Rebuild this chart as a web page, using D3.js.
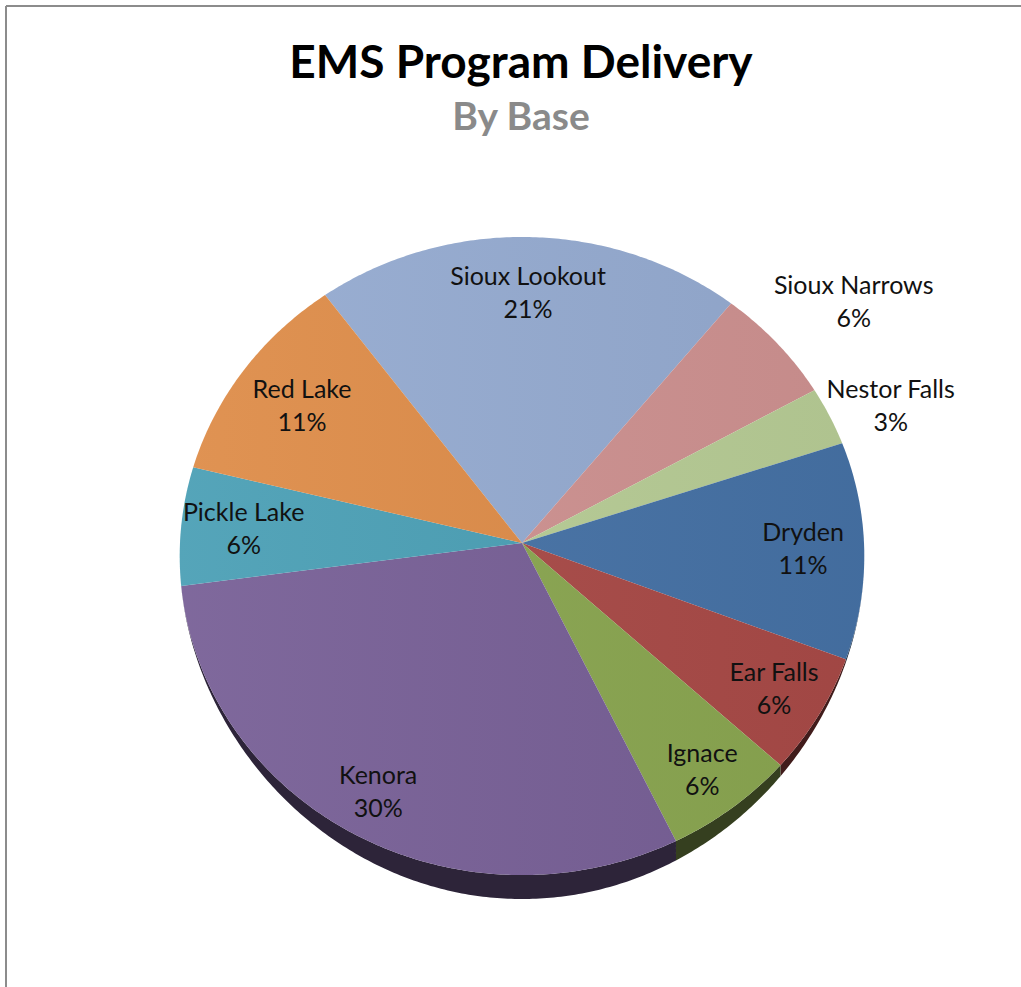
<!DOCTYPE html>
<html>
<head>
<meta charset="utf-8">
<script src="https://cdn.jsdelivr.net/npm/d3@7"></script>
<style>
    body { margin: 0; background: white; }
    svg { display: block; }
</style>
</head>
<body>
<svg id="chart" width="1021" height="987"></svg>
<script>
// data, clockwise from the top
const bases = ["Sioux Lookout", "Sioux Narrows", "Nestor Falls", "Dryden", "Ear Falls", "Ignace", "Kenora", "Pickle Lake", "Red Lake"];
const shares = [21, 6, 3, 11, 6, 6, 30, 6, 11];
const colors = ["#95abd1", "#cf9291", "#b8cd96", "#4672a6", "#a94a47", "#8aa650", "#775f96", "#4a9fb5", "#de8c48"];
const outsideLabels = ["Sioux Narrows", "Nestor Falls"];

window.addEventListener("load", main);

function main()
{
    const svg = d3.select("svg#chart");
    const width = +svg.attr("width");
    const font = "Lato, 'Open Sans', sans-serif";

    // frame (only top and left edges show in the shot)
    svg.append("line").attr("x1", 6).attr("y1", 6).attr("x2", width).attr("y2", 6)
        .attr("stroke", "#8c8c8c").attr("stroke-width", 2);
    svg.append("line").attr("x1", 6).attr("y1", 6).attr("x2", 6).attr("y2", 987)
        .attr("stroke", "#8c8c8c").attr("stroke-width", 2);

    // titles
    svg.append("text").text("EMS Program Delivery")
        .attr("x", 521).attr("y", 78)
        .attr("text-anchor", "middle")
        .attr("font-family", font)
        .attr("font-weight", "bold")
        .attr("font-size", 46)
        .attr("fill", "black");
    svg.append("text").text("By Base")
        .attr("x", 521).attr("y", 130)
        .attr("text-anchor", "middle")
        .attr("font-family", font)
        .attr("font-weight", "bold")
        .attr("font-size", 39)
        .attr("fill", "#8a8a8a");

    // 3d pie: disc seen with a little perspective, far side smaller
    const cx = 522, cy = 543, rx = 342, ry = 318.5, persp = 0.0408, depth = 24;
    const start = -36.5 * Math.PI / 180;

    function top(a, k = 1)
    {
        const s = 1 + persp * k * Math.cos(a);
        return [cx + k * rx * Math.sin(a) / s, cy - k * ry * Math.cos(a) / s];
    }
    function bottom(a)
    {
        const p = top(a);
        const c = Math.cos(a);
        return [p[0], p[1] + (c < 0 ? depth * c * c : 0)];
    }
    function arcPoints(a0, a1, f)
    {
        const n = Math.max(2, Math.ceil(Math.abs(a1 - a0) / 0.01));
        return d3.range(n + 1).map(i => f(a0 + (a1 - a0) * i / n));
    }

    const pie = d3.pie().sort(null).value(d => d)
        .startAngle(start).endAngle(start + 2 * Math.PI);
    const arcs = pie(shares).map((d, i) => ({...d, name: bases[i], color: colors[i]}));
    const total = d3.sum(shares);
    const line = d3.line();

    // side walls (front half only)
    const sides = svg.append("g");
    arcs.forEach(d => {
        const s0 = Math.max(d.startAngle, Math.PI / 2);
        const s1 = Math.min(d.endAngle, 3 * Math.PI / 2);
        if (s1 <= s0) return;
        const pts = arcPoints(s0, s1, top).concat(arcPoints(s1, s0, bottom));
        sides.append("path")
            .attr("d", line(pts) + "Z")
            .attr("fill", d3.color(d.color).darker(2.7));
    });

    // gradient on the top face
    const defs = svg.append("defs");
    const grad = defs.append("linearGradient").attr("id", "shade")
        .attr("gradientUnits", "userSpaceOnUse")
        .attr("x1", cx - rx).attr("y1", 0).attr("x2", cx + rx).attr("y2", 0);
    grad.append("stop").attr("offset", 0).attr("stop-color", "white").attr("stop-opacity", 0.06);
    grad.append("stop").attr("offset", 1).attr("stop-color", "black").attr("stop-opacity", 0.05);

    const faces = svg.append("g");
    arcs.forEach(d => {
        const pts = [[cx, cy]].concat(arcPoints(d.startAngle, d.endAngle, top));
        faces.append("path").attr("d", line(pts) + "Z").attr("fill", d.color);
        faces.append("path").attr("d", line(pts) + "Z").attr("fill", "url(#shade)");
    });

    // data labels
    const labels = svg.append("g")
        .attr("font-family", font)
        .attr("font-size", 25)
        .attr("fill", "#111");
    arcs.forEach(d => {
        const mid = (d.startAngle + d.endAngle) / 2;
        const pct = Math.round(d.data / total * 100) + "%";
        const t = labels.append("text").attr("text-anchor", "middle");
        let x, y;
        if (outsideLabels.includes(d.name)) {
            // box sits just outside the rim, left edge on the rim point
            const [ex, ey] = top(mid);
            t.append("tspan").text(d.name);
            const w = t.node().getComputedTextLength();
            x = ex - 3 + w / 2;
            y = ey - 130 * (Math.cos(mid) - 0.33);
        } else {
            // labels on the front diagonals sit a bit further out
            const c = Math.cos(mid), s = Math.abs(Math.sin(mid));
            [x, y] = top(mid, 0.82 * (1 - 0.08 * c * Math.sqrt(s)));
            t.append("tspan");
        }
        t.select("tspan").attr("x", x).attr("y", y - 8).text(d.name);
        t.append("tspan").attr("x", x).attr("y", y + 25).text(pct);
    });
}
</script>
</body>
</html>
